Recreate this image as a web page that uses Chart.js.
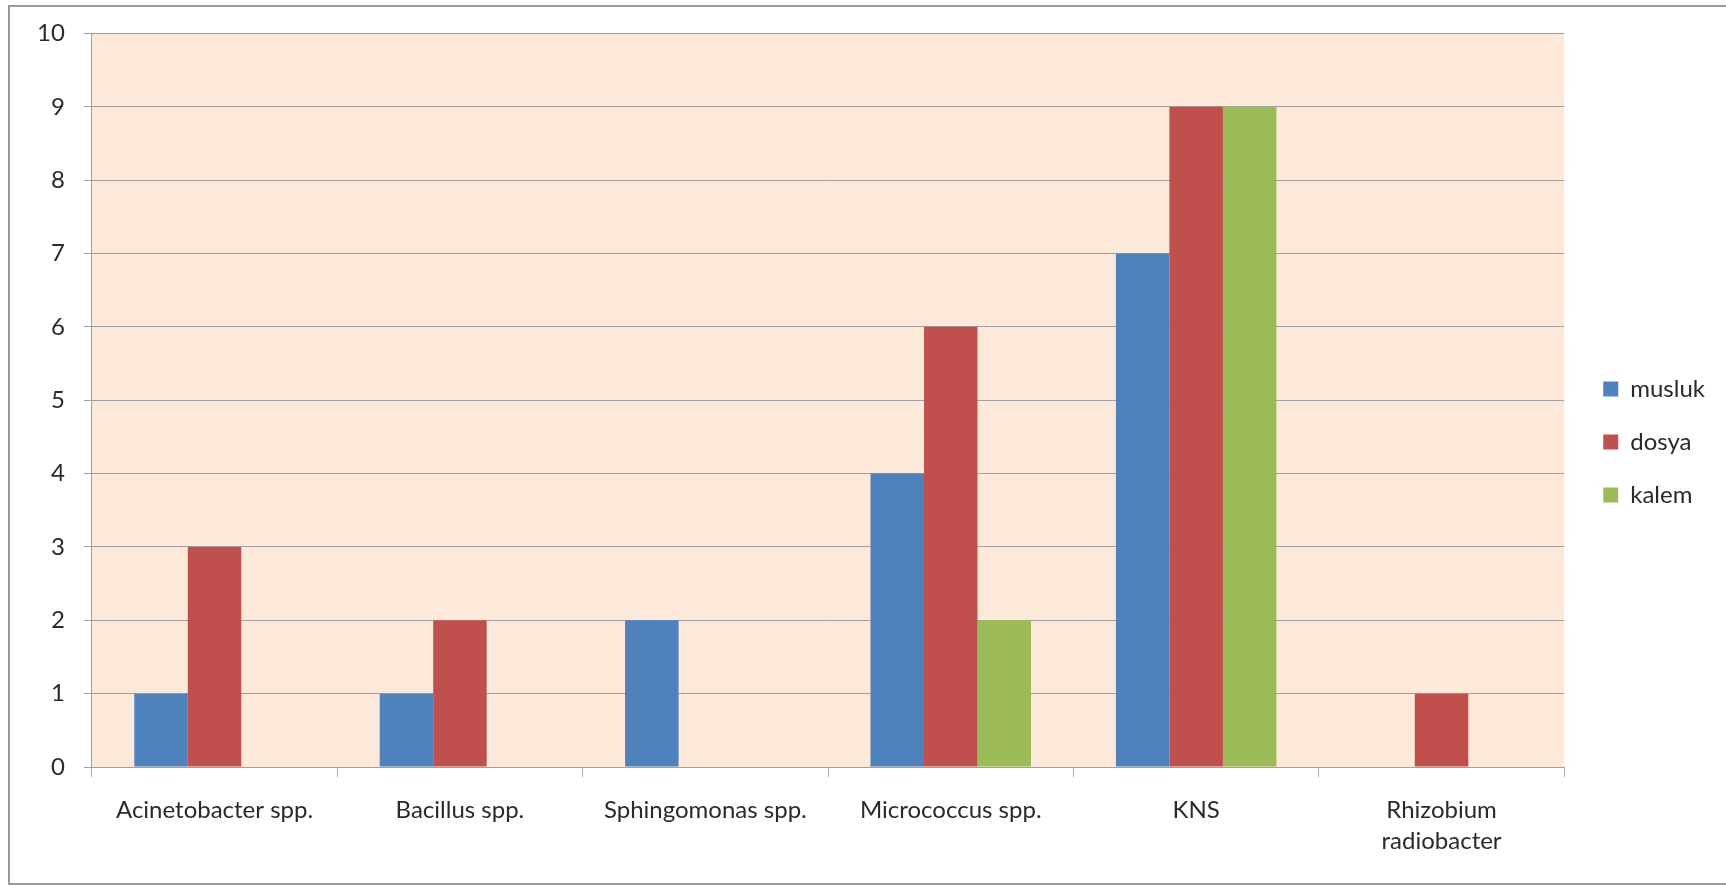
<!DOCTYPE html>
<html>
<head>
<meta charset="utf-8">
<script src="https://cdn.jsdelivr.net/npm/chart.js@4"></script>
<style>
  html, body { margin: 0; padding: 0; background: #fff; }
  #wrap { width: 1726px; height: 886px; position: relative; }
</style>
</head>
<body>
<div id="wrap"><canvas id="bakteri"></canvas></div>
<script>
const kategoriler = [
  "Acinetobacter spp.",
  "Bacillus spp.",
  "Sphingomonas spp.",
  "Micrococcus spp.",
  "KNS",
  ["Rhizobium", "radiobacter"],
];
const musluk = [1, 1, 2, 4, 7, 0];
const dosya = [3, 2, 0, 6, 9, 1];
const kalem = [0, 0, 0, 2, 9, 0];

const yazi = "Lato, 'DejaVu Sans', sans-serif";

// dış çerçeve ve grafik alanının arka planı
const cerceve = {
  id: "cerceve",
  beforeDraw(chart) {
    const ctx = chart.ctx;
    const a = chart.chartArea;
    ctx.save();
    ctx.fillStyle = "#fde9d9";
    ctx.fillRect(a.left, a.top, a.right - a.left, a.bottom - a.top);
    ctx.strokeStyle = "#9a9a9a";
    ctx.lineWidth = 2;
    ctx.strokeRect(9, 6, chart.width + 10, chart.height - 8);
    ctx.restore();
  },
};

// görünmez eksenler: sadece grafik alanının kenar boşluğu için
const bosluk = (boyut, alan) => ({
  display: true,
  grid: { display: false },
  border: { display: false },
  ticks: { display: false },
  afterFit(s) { s[alan] = boyut; },
});

new Chart(document.getElementById("bakteri"), {
  type: "bar",
  data: {
    labels: kategoriler,
    datasets: [
      { label: "musluk", data: musluk, backgroundColor: "#4f81bd" },
      { label: "dosya", data: dosya, backgroundColor: "#c0504d" },
      { label: "kalem", data: kalem, backgroundColor: "#9bbb59" },
    ],
  },
  options: {
    responsive: true,
    maintainAspectRatio: false,
    animation: false,
    categoryPercentage: 0.654,
    barPercentage: 1.0,
    layout: {
      padding: { left: 18, top: 9, right: 11, bottom: 11 },
    },
    plugins: {
      tooltip: { enabled: false },
      legend: {
        position: "right",
        labels: {
          boxWidth: 15,
          boxHeight: 15,
          padding: 29,
          color: "#2a2a2a",
          font: { family: yazi, size: 24 },
        },
      },
    },
    scales: {
      x: {
        grid: {
          drawOnChartArea: false,
          tickLength: 10,
          color: "#b0b0b0",
        },
        border: { color: "#a0a0a0" },
        ticks: {
          padding: 18,
          maxRotation: 0,
          autoSkip: false,
          color: "#2a2a2a",
          font: { family: yazi, size: 24, lineHeight: 1.29 },
        },
      },
      ust: { type: "category", position: "top", ...bosluk(24, "height") },
      y: {
        min: 0,
        max: 10,
        grid: {
          color: "#a0a0a0",
          tickLength: 8,
        },
        border: { color: "#a0a0a0" },
        ticks: {
          stepSize: 1,
          padding: 19,
          color: "#2a2a2a",
          font: { family: yazi, size: 24 },
        },
      },
      sag: { type: "linear", position: "right", ...bosluk(10, "width") },
    },
  },
  plugins: [cerceve],
});
</script>
</body>
</html>
